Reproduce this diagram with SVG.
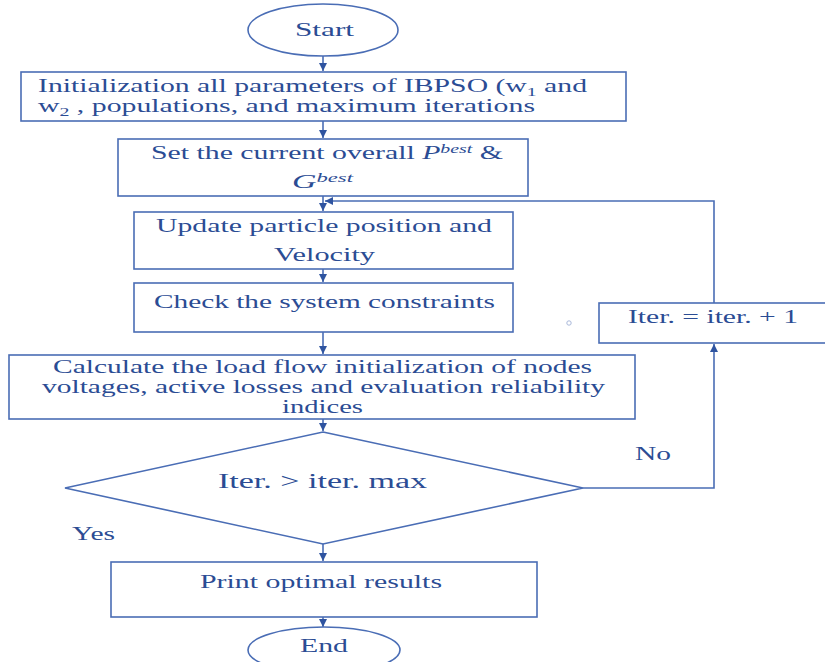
<svg xmlns="http://www.w3.org/2000/svg" width="825" height="662" viewBox="0 0 825 662">
<defs>
<style>
.n{fill:#fff;stroke:#4A6DB5;stroke-width:1.6}
.c{fill:none;stroke:#4A6DB5;stroke-width:1.6}
.t{font-family:"Liberation Serif","Times New Roman",serif;font-size:18px;fill:#2B4C94}
.m{text-anchor:middle}
</style>
<marker id="ah" viewBox="0 0 10 10" refX="10" refY="5" markerWidth="8" markerHeight="8" markerUnits="userSpaceOnUse" orient="auto">
<path d="M0,0 L10,5 L0,10 Z" fill="#2F54A0"/>
</marker>
</defs>
<rect width="825" height="662" fill="#fff"/>
<g id="connectors">
<line class="c" x1="323" y1="56" x2="323" y2="71" marker-end="url(#ah)"/>
<line class="c" x1="323" y1="121" x2="323" y2="138" marker-end="url(#ah)"/>
<line class="c" x1="323" y1="196" x2="323" y2="211" marker-end="url(#ah)"/>
<line class="c" x1="323" y1="269" x2="323" y2="282" marker-end="url(#ah)"/>
<line class="c" x1="323" y1="332" x2="323" y2="354" marker-end="url(#ah)"/>
<line class="c" x1="323" y1="419" x2="323" y2="431" marker-end="url(#ah)"/>
<line class="c" x1="323" y1="544" x2="323" y2="561" marker-end="url(#ah)"/>
<line class="c" x1="323" y1="617" x2="323" y2="627" marker-end="url(#ah)"/>
<polyline class="c" points="583,488 714,488 714,344" marker-end="url(#ah)"/>
<polyline class="c" points="714,303 714,201 325,201" marker-end="url(#ah)"/>
</g>
<g id="start">
<ellipse class="n" cx="323" cy="30" rx="75" ry="26"/>
<text class="t" x="295" y="36" textLength="59" lengthAdjust="spacingAndGlyphs">Start</text>
</g>
<g id="init">
<rect class="n" x="21" y="72" width="605" height="49"/>
<text class="t" x="38" y="92" textLength="549" lengthAdjust="spacingAndGlyphs">Initialization all parameters of IBPSO (w<tspan dy="4" font-size="12">1</tspan><tspan dy="-4"> and</tspan></text>
<text class="t" x="38" y="112" textLength="497" lengthAdjust="spacingAndGlyphs">w<tspan dy="4" font-size="12">2</tspan><tspan dy="-4"> , populations, and maximum iterations</tspan></text>
</g>
<g id="setbest">
<rect class="n" x="118" y="139" width="410" height="57"/>
<text class="t" x="151" y="159" textLength="352" lengthAdjust="spacingAndGlyphs">Set the current overall <tspan font-style="italic">P</tspan><tspan font-style="italic" font-size="12" dy="-6">best</tspan><tspan dy="6"> &amp;</tspan></text>
<text class="t" x="292" y="188" textLength="61" lengthAdjust="spacingAndGlyphs"><tspan font-style="italic">G</tspan><tspan font-style="italic" font-size="12" dy="-6">best</tspan></text>
</g>
<g id="update">
<rect class="n" x="134" y="212" width="379" height="57"/>
<text class="t" x="156" y="232" textLength="336" lengthAdjust="spacingAndGlyphs">Update particle position and</text>
<text class="t" x="274" y="261" textLength="101" lengthAdjust="spacingAndGlyphs">Velocity</text>
</g>
<g id="check">
<rect class="n" x="134" y="283" width="379" height="49"/>
<text class="t" x="154" y="308" textLength="341" lengthAdjust="spacingAndGlyphs">Check the system constraints</text>
</g>
<g id="loadflow">
<rect class="n" x="9" y="355" width="626" height="64"/>
<text class="t" x="53" y="373" textLength="539" lengthAdjust="spacingAndGlyphs">Calculate the load flow initialization of nodes</text>
<text class="t" x="42" y="393" textLength="563" lengthAdjust="spacingAndGlyphs">voltages, active losses and evaluation reliability</text>
<text class="t" x="282" y="413" textLength="81" lengthAdjust="spacingAndGlyphs">indices</text>
</g>
<g id="decision">
<polygon class="n" points="323,432 583,488 323,544 65,488"/>
<text class="t" x="218" y="488" textLength="209" lengthAdjust="spacingAndGlyphs" style="font-size:20px">Iter. &gt; iter. max</text>
</g>
<g id="iterinc">
<rect class="n" x="599" y="303" width="240" height="40"/>
<text class="t" x="628" y="323" textLength="170" lengthAdjust="spacingAndGlyphs">Iter. = iter. + 1</text>
</g>
<circle cx="569" cy="323" r="2.2" fill="none" stroke="#A9B8DA" stroke-width="1"/>
<text class="t" x="635" y="460" textLength="36" lengthAdjust="spacingAndGlyphs">No</text>
<text class="t" x="72" y="540" textLength="43" lengthAdjust="spacingAndGlyphs">Yes</text>
<g id="print">
<rect class="n" x="111" y="562" width="426" height="55"/>
<text class="t" x="200" y="588" textLength="242" lengthAdjust="spacingAndGlyphs">Print optimal results</text>
</g>
<g id="end">
<ellipse class="n" cx="324" cy="650" rx="76" ry="23"/>
<text class="t" x="300" y="652" textLength="48" lengthAdjust="spacingAndGlyphs">End</text>
</g>
</svg>
